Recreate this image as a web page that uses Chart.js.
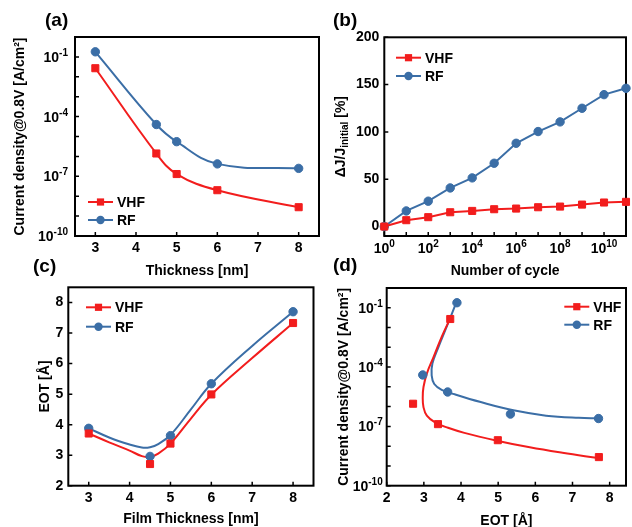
<!DOCTYPE html>
<html>
<head>
<meta charset="utf-8">
<script src="https://cdn.jsdelivr.net/npm/chart.js@4.4.0/dist/chart.umd.min.js"></script>
<style>
  html, body { margin: 0; padding: 0; background: #fff; width: 632px; height: 527px; overflow: hidden; }
  canvas { position: absolute; }
  .lbl { position: absolute; font: bold 19px "Liberation Sans", Arial, sans-serif; line-height: 19px; color: #000; }
</style>
</head>
<body>
<canvas id="ca" width="325" height="285" style="left:0;top:0"></canvas>
<canvas id="cb" width="307" height="285" style="left:325px;top:0"></canvas>
<canvas id="cc" width="325" height="268" style="left:0;top:262px"></canvas>
<canvas id="cd" width="307" height="268" style="left:325px;top:262px"></canvas>
<div class="lbl" style="left:45px;top:10px">(a)</div>
<div class="lbl" style="left:333px;top:10px">(b)</div>
<div class="lbl" style="left:33px;top:256px">(c)</div>
<div class="lbl" style="left:333px;top:255px">(d)</div>
<script>
const FONT = '"Liberation Sans", Arial, sans-serif';
const RED = '#f21d1d';
const BLUE = '#3b6ea6';

// (a) current density vs film thickness
const thickness = [3, 4.5, 5, 6, 8];
const jVHF = [2.7e-2, 1.4e-6, 1.3e-7, 2.0e-8, 2.8e-9];
const jRF = [1.8e-1, 4.0e-5, 5.5e-6, 4.2e-7, 2.5e-7];

// (b) relative change of J vs number of cycles
const cycles = [1, 1e1, 1e2, 1e3, 1e4, 1e5, 1e6, 1e7, 1e8, 1e9, 1e10, 1e11];
const dJVHF = [0, 6.7, 9.9, 15.1, 16.5, 18.3, 19.0, 20.4, 21.1, 23.2, 25.4, 26.1];
const dJRF = [0, 16.5, 26.8, 40.8, 51.4, 66.9, 88.0, 100.4, 110.6, 125.0, 139.4, 146.1];

// (c) EOT vs film thickness, points and fitted curves
const eotVHF = [3.71, 2.71, 3.38, 4.99, 7.33];
const eotRF = [3.88, 2.96, 3.64, 5.34, 7.70];
const fitThick = [3, 3.5, 4, 4.3, 4.5, 4.7, 5, 5.5, 6, 7, 8];
const fitEotVHF = [3.71, 3.42, 3.15, 2.97, 2.94, 3.05, 3.38, 4.20, 4.98, 6.18, 7.33];
const fitEotRF = [3.88, 3.58, 3.35, 3.25, 3.26, 3.36, 3.66, 4.50, 5.34, 6.58, 7.70];

// (d) current density vs EOT, points and fitted curves
const eotDVHF = [3.71, 2.71, 3.38, 4.99, 7.71];
const eotDRF = [3.89, 2.97, 3.64, 5.33, 7.70];
const fitDVHFx = [3.71, 3.48, 3.26, 3.08, 2.99, 2.97, 2.99, 3.08, 3.30, 3.65, 4.09, 4.97, 5.85, 6.73, 7.69];
const fitDVHFy = [2.9e-2, 3.4e-3, 3.2e-4, 4.7e-5, 9.8e-6, 3.0e-6, 9.3e-7, 3.5e-7, 1.6e-7, 8.5e-8, 4.7e-8, 1.9e-8, 8.7e-9, 4.6e-9, 2.5e-9];
const fitDRFx = [3.87, 3.65, 3.39, 3.23, 3.21, 3.28, 3.48, 3.83, 4.53, 5.41, 6.29, 7.17, 7.69];
const fitDRFy = [1.8e-1, 1.6e-2, 1.0e-3, 1.5e-4, 3.8e-5, 1.4e-5, 7.1e-6, 4.2e-6, 1.7e-6, 6.5e-7, 3.5e-7, 2.7e-7, 2.6e-7];

// ticks
const thickTicks = [3, 4, 5, 6, 7, 8];
const eotTicks = [2, 3, 4, 5, 6, 7, 8];
const dJTicks = [0, 50, 100, 150, 200];
const jDecades = [1e-10, 1e-9, 1e-8, 1e-7, 1e-6, 1e-5, 1e-4, 1e-3, 1e-2, 1e-1, 1];
const jLabelVals = [1e-10, 1e-7, 1e-4, 1e-1];
const jLabelExps = ['-10', '-7', '-4', '-1'];
const cycleLabelVals = [1, 1e2, 1e4, 1e6, 1e8, 1e10];
const cycleLabelExps = ['0', '2', '4', '6', '8', '10'];

const xy = (xs, ys) => xs.map((x, i) => ({ x: x, y: ys[i] }));

function axis(o) {
  return {
    type: o.type || 'linear',
    min: o.min, max: o.max,
    grid: { display: false, drawTicks: false },
    border: { display: false },
    afterBuildTicks: s => { s.ticks = o.ticks.map(v => ({ value: v })); },
    afterFit: s => { if (s.isHorizontal()) s.height = o.size; else s.width = o.size; },
    ticks: {
      display: !o.pow, autoSkip: false, maxRotation: 0, minRotation: 0, padding: o.pad, color: '#000',
      font: { family: FONT, size: 14, weight: 'bold' }
    },
    title: {
      display: !!o.title, text: o.title, color: '#000',
      font: { family: FONT, size: 14, weight: 'bold' },
      padding: o.titlePad || 0
    }
  };
}

// box round the plot area and inward tick marks
const framePlugin = {
  id: 'frame',
  beforeDatasetsDraw(chart) {
    const { ctx, chartArea: a } = chart;
    const sx = chart.scales.x, sy = chart.scales.y;
    ctx.save();
    ctx.strokeStyle = '#000';
    ctx.lineWidth = 2;
    ctx.strokeRect(a.left, a.top, a.right - a.left, a.bottom - a.top);
    ctx.lineWidth = 1.5;
    ctx.beginPath();
    sx.ticks.forEach(t => {
      const px = sx.getPixelForValue(t.value);
      ctx.moveTo(px, a.bottom); ctx.lineTo(px, a.bottom - 4);
    });
    sy.ticks.forEach(t => {
      const py = sy.getPixelForValue(t.value);
      ctx.moveTo(a.left, py); ctx.lineTo(a.left + 4, py);
    });
    ctx.stroke();
    ctx.restore();
  }
};

// power-of-ten tick labels (10 with a raised exponent)
const powPlugin = {
  id: 'powLabels',
  afterDraw(chart, args, o) {
    if (!o.axes) return;
    const { ctx, chartArea: a } = chart;
    ctx.save();
    ctx.fillStyle = '#000';
    ctx.textBaseline = 'alphabetic';
    ctx.textAlign = 'left';
    o.axes.forEach(ax => {
      const s = chart.scales[ax.id];
      ax.vals.forEach((v, i) => {
        ctx.font = 'bold 14px ' + FONT;
        const wb = ctx.measureText('10').width;
        ctx.font = 'bold 10px ' + FONT;
        const we = ctx.measureText(ax.exps[i]).width;
        let left, base;
        if (s.isHorizontal()) {
          left = s.getPixelForValue(v) - (wb + we) / 2;
          base = a.bottom + ax.pad;
        } else {
          left = a.left - ax.pad - wb - we;
          base = s.getPixelForValue(v) + 5;
        }
        ctx.font = 'bold 14px ' + FONT;
        ctx.fillText('10', left, base);
        ctx.font = 'bold 10px ' + FONT;
        ctx.fillText(ax.exps[i], left + wb, base - 6);
      });
    });
    ctx.restore();
  }
};

// legend inside the plot: line with marker, then text
const legendPlugin = {
  id: 'miniLegend',
  afterDatasetsDraw(chart, args, o) {
    if (!o.items) return;
    const { ctx, chartArea: a } = chart;
    const x0 = (o.anchor === 'right' ? a.right : a.left) + o.dx;
    const y0 = (o.vAnchor === 'bottom' ? a.bottom : a.top) + o.dy;
    o.items.forEach((it, i) => {
      const y = y0 + i * o.rowGap;
      ctx.save();
      ctx.strokeStyle = it.color;
      ctx.fillStyle = it.color;
      ctx.lineWidth = 2;
      ctx.beginPath(); ctx.moveTo(x0, y); ctx.lineTo(x0 + 25, y); ctx.stroke();
      if (it.style === 'rect') {
        ctx.fillRect(x0 + 12.5 - 3.6, y - 3.6, 7.2, 7.2);
      } else {
        ctx.beginPath(); ctx.arc(x0 + 12.5, y, 4.2, 0, Math.PI * 2); ctx.fill();
      }
      ctx.fillStyle = '#000';
      ctx.font = 'bold 14px ' + FONT;
      ctx.textBaseline = 'middle';
      ctx.fillText(it.text, x0 + 29, y + 1);
      ctx.restore();
    });
  }
};

// y title with a subscript, for (b)
const subTitlePlugin = {
  id: 'subTitle',
  afterDraw(chart, args, o) {
    if (!o.parts) return;
    const { ctx, chartArea: a } = chart;
    ctx.save();
    ctx.translate(o.x, (a.top + a.bottom) / 2);
    ctx.rotate(-Math.PI / 2);
    ctx.fillStyle = '#000';
    ctx.textBaseline = 'middle';
    let total = 0;
    o.parts.forEach(p => { ctx.font = 'bold ' + p.size + 'px ' + FONT; p.w = ctx.measureText(p.text).width; total += p.w; });
    let cx = -total / 2;
    o.parts.forEach(p => { ctx.font = 'bold ' + p.size + 'px ' + FONT; ctx.fillText(p.text, cx, p.dy || 0); cx += p.w; });
    ctx.restore();
  }
};

const legendItems = [
  { text: 'VHF', color: RED, style: 'rect' },
  { text: 'RF', color: BLUE, style: 'circle' }
];

function markerSet(data, color, style, showLine) {
  return {
    data: data, showLine: showLine, borderColor: color, backgroundColor: color,
    pointStyle: style, pointRadius: style === 'rect' ? 5 : 4.2, pointBorderWidth: 1,
    borderWidth: 2, tension: 0.4, clip: false
  };
}
function curveSet(data, color) {
  return { data: data, borderColor: color, borderWidth: 2, pointRadius: 0, tension: 0.4, clip: false };
}

function baseOptions(padding, legend, scales, extra) {
  return {
    responsive: false, animation: false,
    layout: { padding: padding },
    plugins: Object.assign({ legend: { display: false }, tooltip: { enabled: false }, miniLegend: legend }, extra || {}),
    scales: scales
  };
}

Chart.defaults.font.family = FONT;
Chart.defaults.color = '#000';
const plugins = [framePlugin, legendPlugin, subTitlePlugin, powPlugin];

// (a)
new Chart(document.getElementById('ca'), {
  type: 'line',
  data: { datasets: [
    markerSet(xy(thickness, jVHF), RED, 'rect', true),
    markerSet(xy(thickness, jRF), BLUE, 'circle', true)
  ] },
  options: baseOptions(
    { left: 0, top: 37, right: 4.3, bottom: 0 },
    { items: legendItems, anchor: 'left', vAnchor: 'bottom', dx: 13, dy: -34, rowGap: 18 },
    {
      x: axis({ min: 2.5, max: 8.5, ticks: thickTicks, size: 49, pad: 4, title: 'Thickness [nm]', titlePad: { top: 0, bottom: 5.6 } }),
      y: axis({ type: 'logarithmic', min: 1e-10, max: 1, ticks: jDecades, pow: true, size: 75,
        title: 'Current density@0.8V [A/cm²]', titlePad: { top: 11.6, bottom: 0 } })
    },
    { powLabels: { axes: [{ id: 'y', vals: jLabelVals, exps: jLabelExps, pad: 7 }] } }),
  plugins: plugins
});

// (b)
new Chart(document.getElementById('cb'), {
  type: 'line',
  data: { datasets: [
    Object.assign(markerSet(xy(cycles, dJVHF), RED, 'rect', true), { tension: 0 }),
    Object.assign(markerSet(xy(cycles, dJRF), BLUE, 'circle', true), { tension: 0 })
  ] },
  options: baseOptions(
    { left: 0, top: 37.3, right: 3.7, bottom: 0 },
    { items: legendItems, anchor: 'left', vAnchor: 'top', dx: 11.7, dy: 20.4, rowGap: 18.3 },
    {
      x: axis({ type: 'logarithmic', min: 1, max: 1e11, ticks: cycles, pow: true, size: 49,
        title: 'Number of cycle', titlePad: { top: 0, bottom: 5.6 } }),
      y: axis({ min: -10, max: 200, ticks: dJTicks, size: 59.3, pad: 5 })
    },
    {
      subTitle: { x: 16, parts: [
        { text: 'ΔJ/J', size: 14 },
        { text: 'initial', size: 10, dy: 4 },
        { text: ' [%]', size: 14 }
      ] },
      powLabels: { axes: [{ id: 'x', vals: cycleLabelVals, exps: cycleLabelExps, pad: 17 }] }
    }),
  plugins: plugins
});

// (c)
new Chart(document.getElementById('cc'), {
  type: 'line',
  data: { datasets: [
    markerSet(xy(thickness, eotVHF), RED, 'rect', false),
    markerSet(xy(thickness, eotRF), BLUE, 'circle', false),
    curveSet(xy(fitThick, fitEotVHF), RED),
    curveSet(xy(fitThick, fitEotRF), BLUE)
  ] },
  options: baseOptions(
    { left: 0, top: 25.3, right: 11.5, bottom: 0 },
    { items: legendItems, anchor: 'left', vAnchor: 'top', dx: 17.7, dy: 20, rowGap: 19.4 },
    {
      x: axis({ min: 2.5, max: 8.5, ticks: thickTicks, size: 44.3, pad: 4, title: 'Film Thickness [nm]', titlePad: { top: 0, bottom: 2.6 } }),
      y: axis({ min: 2, max: 8.5, ticks: eotTicks, size: 68.3, pad: 5, title: 'EOT [Å]', titlePad: { top: 36.6, bottom: 0 } })
    }),
  plugins: plugins
});

// (d)
new Chart(document.getElementById('cd'), {
  type: 'line',
  data: { datasets: [
    markerSet(xy(eotDVHF, jVHF), RED, 'rect', false),
    markerSet(xy(eotDRF, jRF), BLUE, 'circle', false),
    curveSet(xy(fitDVHFx, fitDVHFy), RED),
    curveSet(xy(fitDRFx, fitDRFy), BLUE)
  ] },
  options: baseOptions(
    { left: 0, top: 26, right: 1.3, bottom: 0 },
    { items: legendItems, anchor: 'right', vAnchor: 'top', dx: -61.7, dy: 18.7, rowGap: 18 },
    {
      x: axis({ min: 2, max: 8.44, ticks: eotTicks, size: 44.3, pad: 4, title: 'EOT [Å]', titlePad: { top: 0, bottom: 0.6 } }),
      y: axis({ type: 'logarithmic', min: 1e-10, max: 1, ticks: jDecades, pow: true, size: 61.7,
        title: 'Current density@0.8V [A/cm²]', titlePad: { top: 10.6, bottom: 0 } })
    },
    { powLabels: { axes: [{ id: 'y', vals: jLabelVals, exps: jLabelExps, pad: 4 }] } }),
  plugins: plugins
});
</script>
</body>
</html>
